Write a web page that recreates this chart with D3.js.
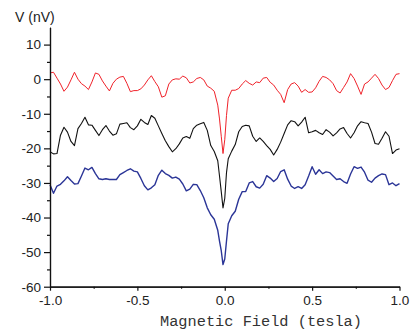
<!DOCTYPE html>
<html>
<head>
<meta charset="utf-8">
<script src="https://cdn.jsdelivr.net/npm/d3@7"></script>
<style>
  html, body { margin: 0; padding: 0; background: #fff; }
  svg { display: block; }
  .tick text { font-family: "Liberation Sans", Arial, sans-serif; font-size: 13.5px; fill: #222; }
</style>
</head>
<body>
<svg id="chart" width="410" height="332"></svg>
<script>
// Magnetic field sweep (tesla)
const field = [
  -1.00,-0.98,-0.96,-0.94,-0.92,-0.90,-0.88,-0.86,-0.84,-0.82,
  -0.80,-0.78,-0.76,-0.74,-0.72,-0.70,-0.68,-0.66,-0.64,-0.62,
  -0.60,-0.58,-0.56,-0.54,-0.52,-0.50,-0.48,-0.46,-0.44,-0.42,
  -0.40,-0.38,-0.36,-0.34,-0.32,-0.30,-0.28,-0.26,-0.24,-0.22,
  -0.20,-0.18,-0.16,-0.14,-0.12,-0.10,-0.08,-0.06,-0.04,-0.03,
  -0.02,-0.01,0.00,0.01,0.02,0.04,0.06,0.08,0.10,0.12,
  0.14,0.16,0.18,0.20,0.22,0.24,0.26,0.28,0.30,0.32,
  0.34,0.36,0.38,0.40,0.42,0.44,0.46,0.48,0.50,0.52,
  0.54,0.56,0.58,0.60,0.62,0.64,0.66,0.68,0.70,0.72,
  0.74,0.76,0.78,0.80,0.82,0.84,0.86,0.88,0.90,0.92,
  0.94,0.96,0.98,1.00
];

// Voltage traces (nV)
const redTrace = [
  1.8,2.0,0.3,-1.4,-3.5,-2.3,-0.2,2.0,0.0,-1.3,
  -2.0,-3.0,-0.8,1.8,1.4,-0.5,-2.0,-3.4,-1.2,0.0,
  0.6,0.8,-1.2,-3.6,-3.3,-3.3,-2.8,-1.7,-0.2,1.0,
  -0.7,-2.2,-5.2,-4.8,-1.4,-0.2,0.1,0.0,0.9,0.4,
  -1.1,-0.8,0.2,0.5,-0.2,-2.0,-2.6,-3.5,-7.5,-11.5,
  -16.5,-21.5,-17.5,-10.5,-5.5,-3.2,-3.2,-2.7,-1.4,-0.4,
  -1.2,-1.7,-0.8,-1.0,0.3,0.5,-0.9,-1.7,-3.2,-4.4,
  -6.8,-3.0,-1.4,-1.0,-2.0,-3.8,-3.0,-3.8,-3.7,-2.5,
  -0.6,0.8,0.5,-0.2,-1.3,-3.3,-4.0,-2.4,-0.8,1.6,
  0.2,-2.0,-4.4,-1.4,-0.8,0.3,1.4,0.2,-1.7,-3.0,
  -2.4,-0.4,1.4,1.6
];

const blackTrace = [
  -21.0,-21.6,-21.5,-16.2,-13.9,-15.3,-18.0,-19.2,-14.3,-12.8,
  -11.0,-13.2,-13.3,-14.8,-16.3,-14.6,-13.4,-15.0,-16.2,-15.8,
  -13.0,-12.8,-12.6,-14.0,-14.6,-13.5,-11.6,-12.5,-13.1,-10.5,
  -11.3,-13.5,-15.7,-17.8,-19.5,-21.0,-20.1,-18.7,-17.0,-16.6,
  -17.1,-14.3,-13.3,-12.9,-12.5,-14.8,-19.2,-20.9,-23.6,-28.0,
  -32.5,-37.2,-34.5,-27.0,-23.0,-20.8,-18.9,-15.2,-13.7,-13.3,
  -13.5,-16.5,-18.0,-17.0,-18.0,-19.2,-20.3,-21.9,-20.3,-18.2,
  -15.7,-13.2,-12.0,-12.3,-13.5,-12.4,-11.0,-15.5,-15.2,-14.8,
  -15.5,-16.0,-14.6,-15.3,-16.4,-15.5,-14.4,-14.0,-15.7,-17.0,
  -15.5,-13.5,-12.3,-12.6,-12.8,-15.3,-18.6,-18.8,-17.1,-15.2,
  -16.5,-21.5,-20.5,-20.1
];

const blueTrace = [
  -30.5,-33.0,-30.9,-30.4,-29.4,-28.2,-29.3,-30.3,-30.2,-28.0,
  -25.7,-26.2,-25.5,-27.3,-28.8,-29.0,-28.8,-29.0,-29.0,-29.0,
  -27.6,-27.0,-26.4,-25.9,-26.6,-26.8,-28.7,-30.8,-32.0,-31.4,
  -30.5,-27.8,-26.3,-27.3,-27.8,-28.6,-28.3,-28.9,-30.3,-32.3,
  -31.8,-30.4,-30.5,-32.2,-34.3,-37.2,-39.2,-40.5,-43.7,-46.8,
  -49.6,-53.6,-52.0,-46.8,-41.8,-39.5,-38.2,-34.7,-32.5,-32.5,
  -30.0,-29.6,-31.1,-31.5,-30.4,-27.9,-28.6,-29.6,-28.7,-26.7,
  -26.2,-28.9,-30.9,-31.6,-31.1,-31.6,-30.5,-28.0,-25.3,-27.5,
  -26.2,-27.3,-26.8,-27.0,-28.0,-29.0,-28.8,-29.6,-30.1,-27.4,
  -25.3,-25.8,-25.4,-26.9,-29.2,-29.8,-28.6,-27.9,-27.4,-27.6,
  -30.5,-30.0,-30.8,-30.2
];

// Axis ticks
const xMajorTicks = [-1.0, -0.5, 0.0, 0.5, 1.0];
const xMinorTicks = [-0.75, -0.25, 0.25, 0.75];
const yMajorTicks = [10, 0, -10, -20, -30, -40, -50, -60];
const yMinorTicks = [5, -5, -15, -25, -35, -45, -55];

const svg = d3.select("#chart");

const x = d3.scaleLinear().domain([-1, 1]).range([50, 399.5]);
const y = d3.scaleLinear().domain([-60, 15]).range([286.7, 27.3]);

const series = [
  { values: redTrace,   color: "#f0222a", width: 1.0 },
  { values: blackTrace, color: "#111111", width: 1.1 },
  { values: blueTrace,  color: "#2b3597", width: 1.4 }
];

const line = d3.line()
  .x(d => x(d[0]))
  .y(d => y(d[1]));

svg.append("g")
  .selectAll("path")
  .data(series)
  .join("path")
  .attr("fill", "none")
  .attr("stroke", d => d.color)
  .attr("stroke-width", d => d.width)
  .attr("stroke-linejoin", "round")
  .attr("d", d => line(field.map((f, i) => [f, d.values[i]])));

// Left axis
svg.append("g")
  .attr("transform", `translate(${x(-1)},0)`)
  .call(d3.axisLeft(y).tickValues(yMajorTicks).tickSize(6).tickSizeOuter(0).tickPadding(3)
    .tickFormat(d3.format("d")));
svg.append("g")
  .attr("transform", `translate(${x(-1)},0)`)
  .call(d3.axisLeft(y).tickValues(yMinorTicks).tickSize(3).tickSizeOuter(0).tickFormat(""));

// Bottom axis
svg.append("g")
  .attr("transform", `translate(0,${y(-60)})`)
  .call(d3.axisBottom(x).tickValues(xMajorTicks).tickSize(4).tickSizeOuter(0).tickPadding(5)
    .tickFormat(d3.format(".1f")));
svg.append("g")
  .attr("transform", `translate(0,${y(-60)})`)
  .call(d3.axisBottom(x).tickValues(xMinorTicks).tickSize(2).tickSizeOuter(0).tickFormat(""));

svg.selectAll(".domain, .tick line").attr("stroke", "#111").attr("stroke-width", 1.2);
svg.selectAll(".tick text").text(function () { return this.textContent.replace("\u2212", "-"); });

// Axis titles
svg.append("text")
  .attr("x", 15)
  .attr("y", 22)
  .attr("font-family", "'Liberation Sans', Arial, sans-serif")
  .attr("font-size", 14)
  .attr("fill", "#222")
  .text("V (nV)");

svg.append("text")
  .attr("x", 261)
  .attr("y", 326)
  .attr("text-anchor", "middle")
  .attr("font-family", "'Liberation Mono', 'Courier New', monospace")
  .attr("font-size", 15.3)
  .attr("fill", "#333")
  .text("Magnetic Field (tesla)");
</script>
</body>
</html>
